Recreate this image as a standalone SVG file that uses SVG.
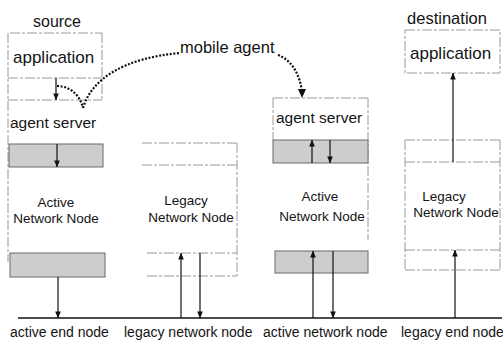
<svg xmlns="http://www.w3.org/2000/svg" width="503" height="347" viewBox="0 0 503 347">
<style>
text{font-family:"Liberation Sans",Arial,sans-serif;fill:#141414}
.big{font-size:17px}
.mid{font-size:15.5px}
.nn{font-size:13.5px;text-anchor:middle}
.lbl{font-size:14px}
.edge{stroke:#9a9a9a;stroke-width:1;fill:none;stroke-dasharray:10,2,3,2}
.shade{fill:#cdcdcd;stroke:#6a6a6a;stroke-width:1}
.arr{stroke:#111;stroke-width:1.2;fill:none;marker-end:url(#ah)}
.dot{stroke:#111;stroke-width:2.2;fill:none;stroke-dasharray:2,1.6}
</style>
<defs>
<marker id="ah" viewBox="0 0 8 8" refX="7.5" refY="4" markerWidth="7" markerHeight="7" markerUnits="userSpaceOnUse" orient="auto">
<path d="M0,0.8 L8,4 L0,7.2 Z" fill="#111"/>
</marker>
</defs>
<rect width="503" height="347" fill="#fff"/>

<g id="active-end-node">
<text x="57" y="27" style="font-size:16px;text-anchor:middle">source</text>
<path class="edge" d="M10,33 H102 M8,33 V262 M102,33 V100 M8,78 H102 M8,100 H102"/>
<text class="big" x="13" y="63">application</text>
<text class="mid" x="10" y="128">agent server</text>
<rect class="shade" x="9" y="144" width="94" height="23"/>
<text class="nn" x="56" y="207">Active</text>
<text class="nn" x="56" y="223">Network Node</text>
<rect class="shade" x="10" y="253" width="95" height="24"/>
<text class="lbl" x="10" y="337">active end node</text>
</g>

<g id="legacy-network-node">
<path class="edge" d="M142,143 H237 M142,165 H237 M237,143 V276 M147,253 H237 M147,276 H237"/>
<text class="nn" x="186" y="205">Legacy</text>
<text class="nn" x="191" y="222">Network Node</text>
<text class="lbl" x="124" y="337">legacy network node</text>
</g>

<g id="active-network-node">
<path class="edge" d="M273,98 H368 M273,98 V140 M368,98 V240"/>
<text class="mid" x="276" y="123">agent server</text>
<rect class="shade" x="273" y="140" width="95" height="23"/>
<text class="nn" x="320" y="201">Active</text>
<text class="nn" x="322" y="221">Network Node</text>
<rect class="shade" x="275" y="251" width="93" height="22"/>
<text class="lbl" x="263" y="337">active network node</text>
</g>

<g id="legacy-end-node">
<text x="447" y="24" style="font-size:16.5px;text-anchor:middle">destination</text>
<rect class="edge" x="405" y="30" width="95" height="43"/>
<text class="big" x="410" y="59">application</text>
<path class="edge" d="M405,140 H500 M405,162 H500 M405,140 V270 M500,140 V270 M405,250 H500 M405,270 H500"/>
<text class="nn" x="444" y="201">Legacy</text>
<text class="nn" x="456" y="217">Network Node</text>
<text class="lbl" x="401" y="337">legacy end node</text>
</g>

<g id="connectors">
<path d="M18,318 H502" stroke="#111" stroke-width="1.6"/>
<path class="arr" d="M56,78 V100"/>
<path class="arr" d="M57,144 V167"/>
<path class="arr" d="M58,277 V318"/>
<path class="arr" d="M181,318 V253"/>
<path class="arr" d="M200,253 V318"/>
<path class="arr" d="M312,163 V140"/>
<path class="arr" d="M330,140 V163"/>
<path class="arr" d="M313,318 V251"/>
<path class="arr" d="M333,251 V318"/>
<path class="arr" d="M453,162 V73"/>
<path class="arr" d="M455,318 V250"/>
<path class="dot" d="M57,86 C70,86 80,95 83,108"/>
<path class="dot" d="M83,108 C92,78 125,58 180,53"/>
<path class="dot" d="M278,55 C292,60 300,75 302,92"/>
<path d="M298,89 L302,98 L306,89 Z" fill="#111"/>
<text x="180" y="53" style="font-size:16.5px">mobile agent</text>
</g>
</svg>
